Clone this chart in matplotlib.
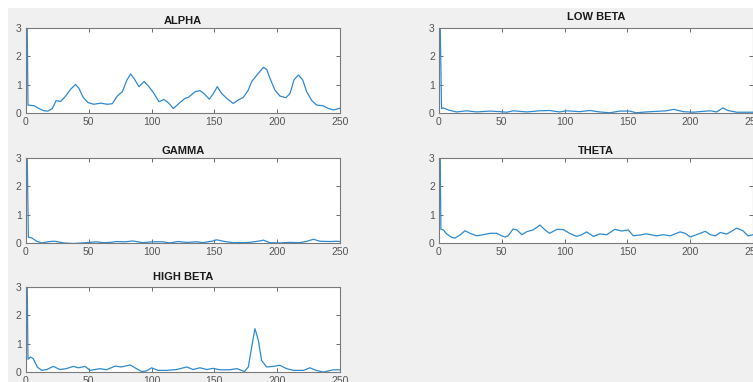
import matplotlib.pyplot as plt
from matplotlib.patches import Rectangle

plt.rcParams['font.family'] = ['Liberation Sans', 'DejaVu Sans']

# (x in samples, y in power)
alpha_x = [1, 1.6, 6.4, 10.3, 14.3, 17.5, 21, 24, 27.6, 31.6, 35.6, 39.5, 42.2, 45.6, 49.4, 54,
           59.4, 64.8, 68.7, 72.7, 76.7, 80.1, 83.3, 86, 90, 94, 97.9, 101.9, 105.9, 109.9,
           113.9, 117.3, 121.8, 126.6, 129.2, 134.6, 138.5, 141.7, 146, 149.2, 152.3, 155.8,
           159.8, 165, 169, 173, 177, 179.7, 185, 189, 191.6, 194.3, 198.2, 202.2, 207, 210.2,
           213.4, 216.9, 220.3, 223.5, 227.5, 231.5, 236.3, 240.9, 244.8, 250]
alpha_y = [3.0, 0.28, 0.26, 0.16, 0.08, 0.07, 0.16, 0.44, 0.41, 0.6, 0.84, 1.01, 0.87, 0.55, 0.37,
           0.31, 0.35, 0.31, 0.33, 0.6, 0.75, 1.14, 1.38, 1.22, 0.93, 1.11, 0.93, 0.69, 0.4, 0.48,
           0.34, 0.16, 0.34, 0.52, 0.55, 0.75, 0.79, 0.69, 0.49, 0.69, 0.93, 0.69, 0.52, 0.34,
           0.46, 0.55, 0.81, 1.11, 1.4, 1.61, 1.54, 1.22, 0.81, 0.6, 0.54, 0.69, 1.17, 1.34, 1.17,
           0.75, 0.44, 0.28, 0.26, 0.16, 0.11, 0.17]

lowbeta_x = [1, 2, 3.5, 8, 14, 22, 30, 40.6, 48.6, 54, 59, 70, 80, 88, 96, 101.6, 112, 120, 128,
             136, 144, 152, 157, 165, 173, 181, 187, 194.5, 202.5, 210, 216, 221, 226, 230, 237, 250]
lowbeta_y = [3.0, 0.16, 0.18, 0.1, 0.04, 0.08, 0.04, 0.07, 0.05, 0.03, 0.08, 0.04, 0.08, 0.09, 0.04,
             0.08, 0.05, 0.09, 0.04, 0.01, 0.07, 0.07, 0.01, 0.04, 0.06, 0.08, 0.13, 0.05, 0.03,
             0.06, 0.08, 0.04, 0.18, 0.09, 0.03, 0.03]

gamma_x = [1, 1.9, 4.5, 8.5, 12.5, 19, 23, 30, 38, 48, 56, 61.6, 67, 72, 79, 85, 93, 101, 109,
           114.6, 121, 128, 136, 141, 149, 152, 157, 165, 173, 178, 186, 189, 194, 202, 210, 218,
           223, 229, 234, 242, 247, 250]
gamma_y = [3.0, 0.2, 0.18, 0.06, 0.0, 0.05, 0.06, 0.0, -0.02, 0.01, 0.04, 0.01, 0.02, 0.05, 0.04,
           0.07, 0.01, 0.04, 0.04, 0.0, 0.05, 0.02, 0.04, 0.01, 0.07, 0.11, 0.06, 0.01, 0.01, 0.02,
           0.07, 0.1, 0.01, 0.0, 0.02, 0.01, 0.05, 0.13, 0.06, 0.05, 0.06, 0.05]

theta_x = [1, 1.5, 3.5, 6, 10, 12.7, 16.7, 20.7, 24.7, 30, 34, 40.6, 46, 50, 52.5, 55, 59, 62, 66,
           70, 75, 80.4, 84.4, 88, 94, 99, 104, 109.6, 113.6, 117.6, 123, 128, 133.5, 140, 145.4,
           150.7, 154.7, 160, 165, 173, 178.6, 184, 192, 196, 200, 205, 212, 216, 220, 224, 229,
           237, 242, 246, 250]
theta_y = [3.0, 0.48, 0.46, 0.32, 0.2, 0.17, 0.28, 0.43, 0.34, 0.25, 0.28, 0.34, 0.34, 0.25, 0.21,
           0.25, 0.49, 0.46, 0.29, 0.4, 0.46, 0.63, 0.46, 0.34, 0.48, 0.47, 0.34, 0.23, 0.29, 0.39,
           0.23, 0.32, 0.29, 0.48, 0.42, 0.46, 0.25, 0.28, 0.32, 0.25, 0.29, 0.25, 0.39, 0.34, 0.21,
           0.29, 0.41, 0.29, 0.25, 0.37, 0.31, 0.52, 0.43, 0.25, 0.29]

highbeta_x = [1, 1.6, 3.7, 5.8, 9, 12.5, 16.5, 21.8, 27, 32, 37.7, 41.7, 47, 51, 59, 64, 71, 76, 83,
              88, 92, 96, 100, 105, 112, 120, 128, 133, 138.5, 144, 149, 154.5, 162, 168, 174, 177,
              179.7, 182.3, 185, 187.6, 191.6, 197, 202, 207.5, 213, 221, 226, 231, 236.7, 244.7, 250]
highbeta_y = [3.0, 0.45, 0.53, 0.47, 0.18, 0.06, 0.09, 0.2, 0.09, 0.12, 0.2, 0.15, 0.2, 0.06, 0.12,
              0.08, 0.21, 0.18, 0.25, 0.12, 0.02, 0.04, 0.15, 0.06, 0.06, 0.09, 0.18, 0.09, 0.15,
              0.09, 0.13, 0.08, 0.08, 0.12, 0.02, 0.18, 0.88, 1.53, 1.12, 0.41, 0.18, 0.2, 0.24,
              0.12, 0.06, 0.06, 0.15, 0.06, 0.0, 0.08, 0.08]

# name, data, axes rect [left, bottom, width, height], title pad
panels = [
    ('ALPHA', alpha_x, alpha_y, [0.0345, 0.704, 0.417, 0.223], 3),
    ('LOW BETA', lowbeta_x, lowbeta_y, [0.583, 0.704, 0.417, 0.223], 6),
    ('GAMMA', gamma_x, gamma_y, [0.0345, 0.364, 0.417, 0.223], 3),
    ('THETA', theta_x, theta_y, [0.583, 0.364, 0.417, 0.223], 3),
    ('HIGH BETA', highbeta_x, highbeta_y, [0.0345, 0.026, 0.417, 0.223], 5),
]

fig = plt.figure(figsize=(7.53, 3.82), dpi=100, facecolor='#f0f0f0')
# white screenshot border at the top-left
fig.patches.append(Rectangle((0, 1 - 8 / 382), 1, 8 / 382, transform=fig.transFigure,
                             facecolor='white', edgecolor='none', zorder=-1))
fig.patches.append(Rectangle((0, 0), 8 / 753, 1, transform=fig.transFigure,
                             facecolor='white', edgecolor='none', zorder=-1))

for name, xs, ys, rect, pad in panels:
    ax = fig.add_axes(rect)
    ax.plot(xs, ys, color='#2f8ad0', linewidth=0.9)
    ax.set_xlim(0, 250)
    ax.set_ylim(0, 3)
    ax.set_xticks([0, 50, 100, 150, 200, 250])
    ax.set_yticks([0, 1, 2, 3])
    ax.tick_params(direction='in', length=3, width=0.6, top=True, right=True,
                   labelsize=7.5, colors='#555555', pad=3)
    for s in ax.spines.values():
        s.set_color('#7a7a7a')
        s.set_linewidth(0.8)
    ax.set_title(name, fontsize=8, fontweight='bold', color='#1a1a1a', pad=pad)

fig.savefig('out.png', dpi=100, facecolor=fig.get_facecolor())
